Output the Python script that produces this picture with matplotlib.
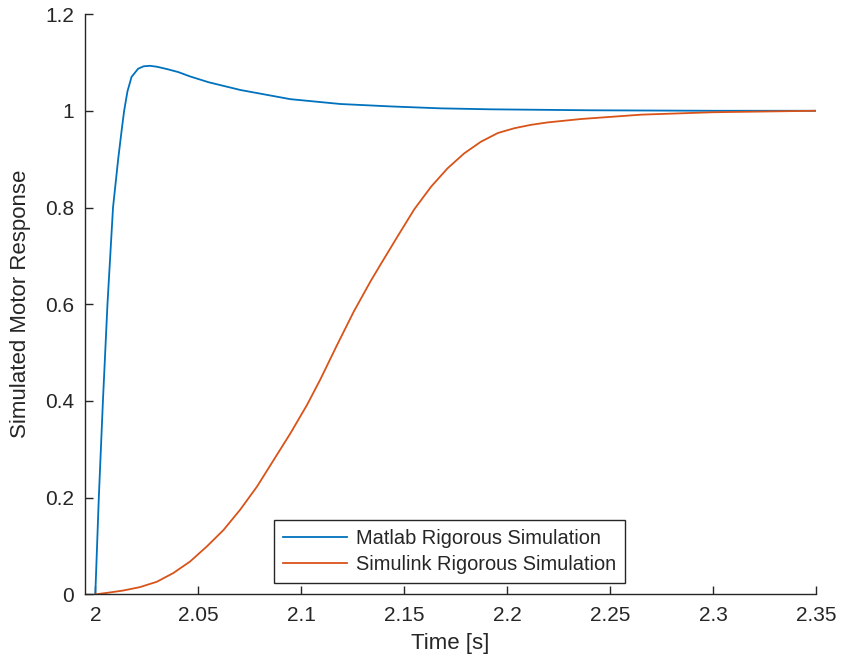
import matplotlib.pyplot as plt

# values
t_matlab = [2.000, 2.0017, 2.0037, 2.0059, 2.0086, 2.0111, 2.0128, 2.0140, 2.0156,
            2.0176, 2.0208, 2.0235, 2.0265, 2.030, 2.035, 2.0403, 2.046, 2.055,
            2.0704, 2.0947, 2.119, 2.1434, 2.1677, 2.1921, 2.2408, 2.30, 2.35]
y_matlab = [0.0, 0.2, 0.4, 0.6, 0.8, 0.9, 0.96, 1.0, 1.04,
            1.070, 1.087, 1.092, 1.093, 1.091, 1.086, 1.080, 1.071, 1.059,
            1.043, 1.024, 1.014, 1.009, 1.005, 1.003, 1.001, 1.000, 1.000]

t_simulink = [2.000, 2.0070, 2.0135, 2.0216, 2.0298, 2.0378, 2.0460, 2.0541,
              2.0622, 2.0703, 2.0785, 2.0866, 2.0947, 2.1028, 2.1093, 2.1174,
              2.1255, 2.1337, 2.1386, 2.1467, 2.1548, 2.1630, 2.1710, 2.1791,
              2.1872, 2.1954, 2.2035, 2.2116, 2.2197, 2.2359, 2.2651, 2.30, 2.35]
y_simulink = [0.0, 0.004, 0.008, 0.015, 0.026, 0.044, 0.068, 0.099,
              0.133, 0.175, 0.223, 0.278, 0.333, 0.392, 0.445, 0.516,
              0.585, 0.648, 0.683, 0.740, 0.796, 0.843, 0.881, 0.912,
              0.936, 0.954, 0.964, 0.971, 0.976, 0.983, 0.992, 0.997, 1.000]

x_ticks = [2, 2.05, 2.1, 2.15, 2.2, 2.25, 2.3, 2.35]
x_labels = ["2", "2.05", "2.1", "2.15", "2.2", "2.25", "2.3", "2.35"]
y_ticks = [0, 0.2, 0.4, 0.6, 0.8, 1, 1.2]
y_labels = ["0", "0.2", "0.4", "0.6", "0.8", "1", "1.2"]

plt.rcParams['font.family'] = ['Liberation Sans', 'DejaVu Sans']
axis_gray = '#262626'

fig = plt.figure(figsize=(8.45, 6.69), dpi=100)
ax = fig.add_axes([0.1006, 0.1115, 0.8654, 0.8675])

ax.plot(t_matlab, y_matlab, color='#0072BD', lw=1.3, label='Matlab Rigorous Simulation')
ax.plot(t_simulink, y_simulink, color='#D95319', lw=1.3, label='Simulink Rigorous Simulation')

ax.set_xlim(1.995, 2.35)
ax.set_ylim(0, 1.2)
ax.set_xticks(x_ticks)
ax.set_xticklabels(x_labels)
ax.set_yticks(y_ticks)
ax.set_yticklabels(y_labels)

ax.spines['top'].set_visible(False)
ax.spines['right'].set_visible(False)
for s in ['left', 'bottom']:
    ax.spines[s].set_color(axis_gray)
    ax.spines[s].set_linewidth(1.0)
ax.tick_params(direction='in', length=6, width=1.0, colors=axis_gray,
               labelsize=15, pad=8)

ax.set_xlabel('Time [s]', fontsize=16, color=axis_gray, labelpad=6)
ax.set_ylabel('Simulated Motor Response', fontsize=16, color=axis_gray, labelpad=10)

leg = ax.legend(loc='lower left', bbox_to_anchor=(0.258, 0.02), fontsize=14.4,
                frameon=True, fancybox=False, framealpha=1, borderpad=0.45,
                handlelength=3.2, handletextpad=0.45, labelspacing=0.35,
                borderaxespad=0)
leg.get_frame().set_edgecolor(axis_gray)
leg.get_frame().set_linewidth(1.0)
for txt in leg.get_texts():
    txt.set_color(axis_gray)

fig.savefig('out.png', dpi=100)
